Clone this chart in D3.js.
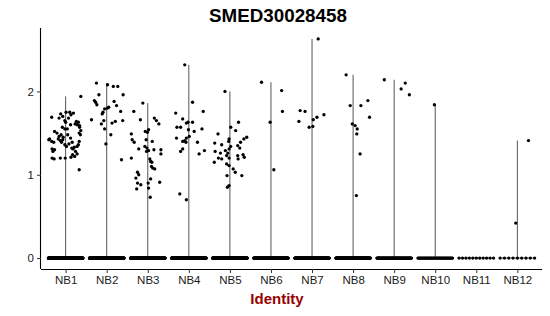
<!DOCTYPE html>
<html>
<head>
	<title>SMED30028458 violin</title>
	<script src="https://d3js.org/d3.v7.min.js"></script>
	<style>
		body { margin: 0; background: white; }
		text { font-family: "Liberation Sans", Arial, Helvetica, sans-serif; }
	</style>
</head>
<body>
	<div id="chart"></div>
	<script type="text/javascript">

		var title = "SMED30028458";
		var xTitle = "Identity";
		var categories = ["NB1", "NB2", "NB3", "NB4", "NB5", "NB6", "NB7", "NB8", "NB9", "NB10", "NB11", "NB12"];
		var yTicks = [0, 1, 2];

		// number of cells with zero expression per identity (estimated from the band density)
		var zeroCounts = [420, 420, 380, 380, 380, 160, 160, 160, 90, 45, 11, 9];

		// non-zero cells: [jitter offset (category units), expression]
		var nb1 = [[0.37, 1.94], [-0.34, 1.69], [-0.12, 1.73], [0.01, 1.75], [0.10, 1.75], [0.19, 1.74], [0.13, 1.72],
			[-0.02, 1.65], [0.00, 1.63], [-0.07, 1.70], [-0.16, 1.68], [0.07, 1.68], [0.26, 1.64], [0.31, 1.63],
			[0.28, 1.60], [0.34, 1.59], [-0.27, 1.52], [-0.21, 1.50], [-0.11, 1.48], [-0.06, 1.45], [-0.16, 1.46],
			[-0.39, 1.43], [-0.41, 1.42], [-0.34, 1.40], [-0.29, 1.39], [0.05, 1.48], [0.12, 1.44], [0.16, 1.39],
			[0.08, 1.37], [0.02, 1.34], [-0.02, 1.36], [-0.13, 1.41], [-0.10, 1.39], [-0.18, 1.43], [-0.07, 1.42],
			[-0.33, 1.31], [-0.27, 1.30], [-0.31, 1.28], [-0.33, 1.20], [-0.28, 1.19], [-0.13, 1.20], [-0.01, 1.20],
			[0.13, 1.21], [0.17, 1.24], [0.22, 1.22], [0.28, 1.25], [0.24, 1.28], [0.18, 1.31], [0.15, 1.32],
			[0.21, 1.33], [0.28, 1.34], [0.31, 1.36], [0.33, 1.40], [0.36, 1.48], [0.33, 1.50], [0.37, 1.53],
			[0.34, 1.57], [0.23, 1.61], [0.12, 1.60], [0.04, 1.55], [-0.02, 1.55], [-0.08, 1.57], [0.33, 1.06]];
		var nb2 = [[-0.25, 2.10], [0.02, 2.08], [0.16, 2.06], [0.27, 2.06], [-0.19, 1.96], [-0.30, 1.89], [-0.27, 1.87],
			[-0.24, 1.84], [0.18, 1.88], [0.24, 1.83], [0.40, 1.96], [-0.05, 1.79], [0.02, 1.80], [0.05, 1.81],
			[-0.09, 1.75], [-0.11, 1.73], [0.34, 1.76], [-0.37, 1.66], [-0.13, 1.61], [-0.07, 1.65], [0.13, 1.62],
			[0.21, 1.64], [0.39, 1.65], [-0.05, 1.55], [0.10, 1.48], [-0.02, 1.37], [0.36, 1.18]];
		var nb3 = [[-0.12, 1.86], [-0.34, 1.76], [-0.18, 1.66], [0.16, 1.68], [0.21, 1.65], [0.27, 1.61], [0.02, 1.54],
			[-0.06, 1.52], [-0.01, 1.51], [-0.40, 1.49], [-0.38, 1.42], [-0.33, 1.39], [-0.04, 1.42], [0.11, 1.40],
			[-0.07, 1.34], [-0.22, 1.31], [-0.02, 1.32], [0.02, 1.29], [-0.03, 1.28], [0.15, 1.30], [0.32, 1.30],
			[0.32, 1.25], [-0.40, 1.20], [0.05, 1.19], [0.07, 1.16], [0.10, 1.15], [0.09, 1.10], [0.12, 1.08],
			[0.17, 1.07], [-0.25, 1.03], [-0.22, 1.00], [-0.29, 0.96], [0.07, 0.95], [0.29, 0.91], [-0.25, 0.90],
			[-0.17, 0.88], [0.01, 0.90], [-0.27, 0.83], [0.02, 0.84], [0.06, 0.73]];
		var nb4 = [[-0.10, 2.32], [0.09, 1.87], [0.35, 1.76], [-0.32, 1.74], [-0.15, 1.67], [-0.02, 1.63], [-0.06, 1.62],
			[0.09, 1.63], [-0.29, 1.57], [-0.20, 1.57], [-0.01, 1.54], [0.32, 1.55], [0.13, 1.52], [-0.30, 1.44],
			[0.01, 1.46], [-0.06, 1.44], [-0.10, 1.41], [-0.15, 1.40], [-0.07, 1.39], [0.21, 1.39], [-0.15, 1.31],
			[-0.20, 1.28], [0.38, 1.29], [0.25, 1.25], [-0.22, 0.77], [-0.06, 0.70]];
		var nb5 = [[-0.12, 2.00], [0.21, 1.63], [0.02, 1.57], [0.14, 1.53], [-0.29, 1.49], [0.41, 1.45], [0.34, 1.43],
			[-0.02, 1.43], [-0.03, 1.40], [0.26, 1.39], [-0.20, 1.36], [-0.37, 1.38], [0.19, 1.35], [0.24, 1.32],
			[0.02, 1.34], [-0.02, 1.31], [-0.36, 1.28], [-0.11, 1.29], [-0.23, 1.26], [-0.05, 1.26], [-0.08, 1.23],
			[-0.28, 1.20], [-0.20, 1.19], [-0.38, 1.15], [0.19, 1.23], [0.32, 1.24], [0.35, 1.21], [0.20, 1.19],
			[-0.02, 1.20], [-0.08, 1.13], [-0.02, 1.11], [0.08, 1.07], [0.13, 1.03], [-0.07, 0.99], [0.29, 0.99],
			[-0.02, 0.87], [-0.06, 0.85]];
		var nb6 = [[-0.23, 2.11], [0.26, 2.01], [0.28, 1.76], [-0.02, 1.63], [0.07, 1.06]];
		var nb7 = [[0.15, 2.63], [-0.29, 1.77], [-0.17, 1.76], [-0.32, 1.64], [0.29, 1.72], [0.12, 1.69], [0.03, 1.66],
			[0.02, 1.58], [-0.07, 1.57]];
		var nb8 = [[-0.17, 2.20], [-0.07, 1.83], [0.19, 1.83], [0.36, 1.89], [0.40, 1.69], [-0.02, 1.61], [0.05, 1.59],
			[0.10, 1.55], [0.09, 1.49], [0.17, 1.25], [0.08, 0.75]];
		var nb9 = [[-0.24, 2.14], [0.27, 2.10], [0.17, 2.03], [0.37, 1.96]];
		var nb10 = [[-0.02, 1.84]];
		var nb11 = [];
		var nb12 = [[0.27, 1.41], [-0.04, 0.42]];

		var nonZero = [nb1, nb2, nb3, nb4, nb5, nb6, nb7, nb8, nb9, nb10, nb11, nb12];

		var width = 550, height = 316;
		var margin = { top: 28, right: 8, bottom: 47, left: 41 };
		var jitterWidth = 0.42, violinHalf = 0.45, ptR = 1.65;

		var svg = d3.select("#chart").append("svg")
			.attr("width", width)
			.attr("height", height);

		var x = d3.scalePoint()
			.domain(categories)
			.range([margin.left, width - margin.right])
			.padding(0.6);
		var step = x.step();

		var yMax = d3.max(nonZero, function (arr) { return d3.max(arr, function (d) { return d[1]; }) || 0; });
		var y = d3.scaleLinear()
			.domain([-0.05 * yMax, yMax * 1.05])
			.range([height - margin.bottom, margin.top]);

		// violins: all cells pile up at zero so each one collapses to a flat base and a thin stem
		var g = svg.append("g");
		categories.forEach(function (c, i) {
			var cx = x(c);
			g.append("line")
				.attr("x1", cx - violinHalf * step).attr("x2", cx + violinHalf * step)
				.attr("y1", y(0)).attr("y2", y(0))
				.attr("stroke", "#333").attr("stroke-width", 0.8);
			var top = d3.max(nonZero[i], function (d) { return d[1]; });
			if (top) {
				g.append("line")
					.attr("x1", cx).attr("x2", cx)
					.attr("y1", y(0)).attr("y2", y(top))
					.attr("stroke", "#555").attr("stroke-width", 1);
			}
		});

		// zero cells
		categories.forEach(function (c, i) {
			var n = zeroCounts[i];
			var offs = d3.range(n).map(function (k) { return -jitterWidth + 2 * jitterWidth * k / Math.max(1, n - 1); });
			g.selectAll(null)
				.data(offs)
				.enter()
				.append("circle")
				.attr("cx", function (d) { return x(c) + d * step; })
				.attr("cy", y(0))
				.attr("r", ptR)
				.attr("fill", "black");
		});

		// expressing cells
		categories.forEach(function (c, i) {
			g.selectAll(null)
				.data(nonZero[i])
				.enter()
				.append("circle")
				.attr("cx", function (d) { return x(c) + d[0] * step; })
				.attr("cy", function (d) { return y(d[1]); })
				.attr("r", ptR)
				.attr("fill", "black");
		});

		// axes
		var xAxis = svg.append("g")
			.attr("transform", "translate(0," + (height - margin.bottom) + ")")
			.call(d3.axisBottom(x).tickSize(4).tickPadding(3));
		var yAxis = svg.append("g")
			.attr("transform", "translate(" + margin.left + ",0)")
			.call(d3.axisLeft(y).tickValues(yTicks).tickFormat(d3.format("d")).tickSize(4).tickPadding(3));

		[xAxis, yAxis].forEach(function (ax) {
			ax.select(".domain").attr("stroke", "black").attr("stroke-width", 1.1);
			ax.selectAll(".tick line").attr("stroke", "#333");
			ax.selectAll(".tick text")
				.attr("fill", "#1a1a1a")
				.style("font-size", "11.5px")
				.style("font-family", "'Liberation Sans', Arial, sans-serif");
		});
		// ggplot axis lines stop at the panel edges, no end ticks
		xAxis.select(".domain").attr("d", "M" + margin.left + ",0.5H" + (width - margin.right));
		yAxis.select(".domain").attr("d", "M-0.5," + margin.top + "V" + (height - margin.bottom));

		svg.append("text")
			.attr("x", 278)
			.attr("y", 22)
			.attr("text-anchor", "middle")
			.style("font-size", "18.8px")
			.style("font-weight", "bold")
			.text(title);

		svg.append("text")
			.attr("x", 277)
			.attr("y", 304)
			.attr("text-anchor", "middle")
			.attr("fill", "#990000")
			.style("font-size", "15px")
			.style("font-weight", "bold")
			.text(xTitle);
	</script>
</body>
</html>
